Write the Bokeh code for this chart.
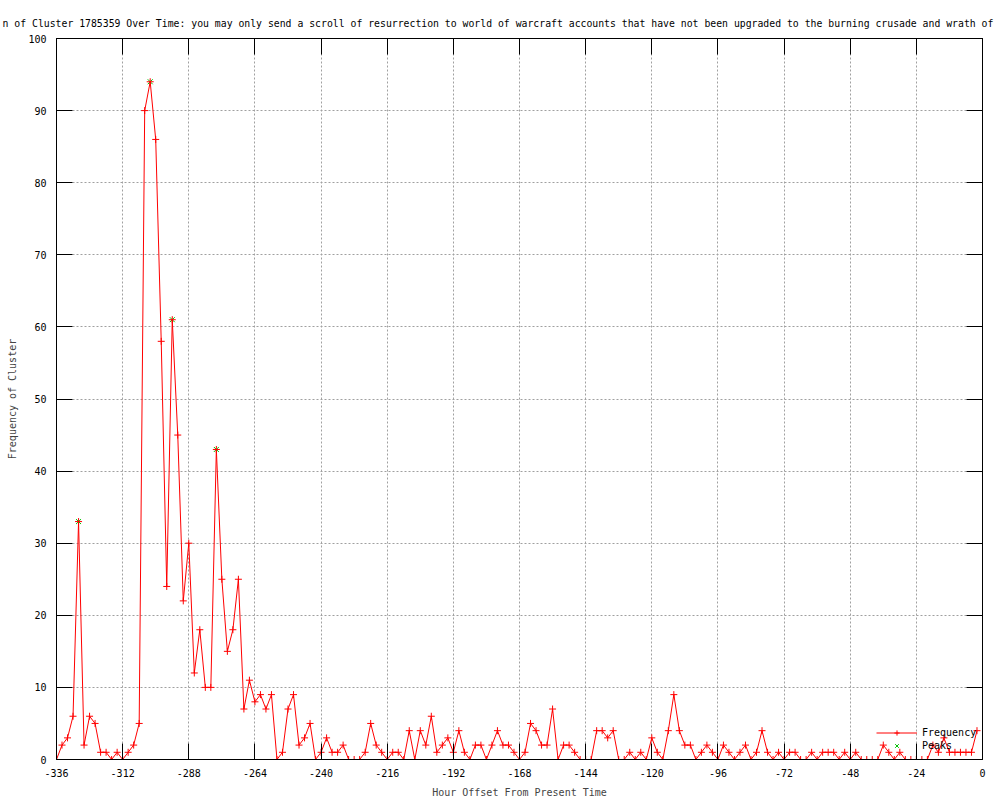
from bokeh.plotting import figure
from bokeh.models import (LinearAxis, FixedTicker, Range1d, Legend, LegendItem,
                          ColumnDataSource)
from bokeh.embed import file_html
from bokeh.resources import INLINE

# ---------------- data ----------------
title_text = ("n of Cluster 1785359 Over Time: you may only send a scroll of resurrection "
              "to world of warcraft accounts that have not been upgraded to the burning "
              "crusade and wrath of")
x_label = "Hour Offset From Present Time"
y_label = "Frequency of Cluster"

# hourly offsets, one sample every 2 hours from -336 to -2
hours = list(range(-336, 0, 2))
frequency = [
    0, 2, 3, 6, 33, 2, 6, 5, 1, 1, 0, 1, 0, 1, 2, 5,
    90, 94, 86, 58, 24, 61, 45, 22, 30, 12, 18, 10, 10, 43, 25, 15,
    18, 25, 7, 11, 8, 9, 7, 9, 0, 1, 7, 9, 2, 3, 5, 0,
    1, 3, 1, 1, 2, 0, 0, 0, 1, 5, 2, 1, 0, 1, 1, 0,
    4, 0, 4, 2, 6, 1, 2, 3, 1, 4, 1, 0, 2, 2, 0, 2,
    4, 2, 2, 1, 0, 1, 5, 4, 2, 2, 7, 0, 2, 2, 1, 0,
    0, 0, 4, 4, 3, 4, 0, 0, 1, 0, 1, 0, 3, 1, 0, 4,
    9, 4, 2, 2, 0, 1, 2, 1, 0, 2, 1, 0, 1, 2, 0, 1,
    4, 1, 0, 1, 0, 1, 1, 0, 0, 1, 0, 1, 1, 1, 0, 1,
    0, 1, 0, 0, 0, 0, 2, 1, 0, 1, 0, 0, 0, 0, 0, 2,
    1, 3, 1, 1, 1, 1, 1, 4,
]
peak_hours = [-328, -302, -294, -278]
peak_values = [33, 94, 61, 43]

x_ticks = [-336, -312, -288, -264, -240, -216, -192, -168, -144, -120, -96, -72, -48, -24, 0]
x_tick_labels = ["-336", "-312", "-288", "-264", "-240", "-216", "-192", "-168",
                 "-144", "-120", "-96", "-72", "-48", "-24", "0"]
y_ticks = [0, 10, 20, 30, 40, 50, 60, 70, 80, 90, 100]
y_tick_labels = ["0", "10", "20", "30", "40", "50", "60", "70", "80", "90", "100"]

# ---------------- styling ----------------
FONT = "DejaVu Sans Mono"
RED = "#ff0000"
GREEN = "#00c000"
GRID = "#a0a0a0"

p = figure(width=1000, height=800,
           x_range=Range1d(-336, 0), y_range=Range1d(0, 100),
           output_backend="svg", toolbar_location=None,
           min_border_left=56, min_border_right=18,
           min_border_top=38, min_border_bottom=40)

p.background_fill_color = "white"
p.border_fill_color = "white"
p.outline_line_color = "black"
p.outline_line_width = 1

p.title.text = title_text
p.title.text_font = FONT
p.title.text_font_size = "9.8px"
p.title.text_font_style = "normal"
p.title.text_color = "black"
p.title.align = "left"
p.title.offset = -54
p.title.standoff = 19

def style_axis(ax, ticks, labels, show_labels=True):
    ax.ticker = FixedTicker(ticks=ticks)
    ax.major_tick_in = 16
    ax.major_tick_out = 0
    ax.minor_tick_in = 0
    ax.minor_tick_out = 0
    ax.axis_line_color = "black"
    ax.major_tick_line_color = "black"
    ax.major_tick_line_width = 1
    if show_labels:
        ax.major_label_overrides = dict(zip(ticks, labels))
        ax.major_label_text_font = FONT
        ax.major_label_text_font_size = "10px"
        ax.major_label_text_color = "black"
    else:
        # mirror axis: ticks only, labels not drawn at all
        ax.major_label_text_font_size = "0px"
        ax.major_label_text_color = None
        ax.major_label_text_alpha = 0
        ax.major_label_standoff = 0

xa = p.xaxis[0]
ya = p.yaxis[0]
style_axis(xa, x_ticks, x_tick_labels)
style_axis(ya, y_ticks, y_tick_labels)
xa.major_label_standoff = 9
ya.major_label_standoff = 10

xa.axis_label = x_label
xa.axis_label_text_font = FONT
xa.axis_label_text_font_size = "10px"
xa.axis_label_text_font_style = "normal"
xa.axis_label_standoff = 7
ya.axis_label = y_label
ya.axis_label_text_font = FONT
ya.axis_label_text_font_size = "10px"
ya.axis_label_text_font_style = "normal"
ya.axis_label_standoff = 7

top_ax = LinearAxis()
right_ax = LinearAxis()
style_axis(top_ax, x_ticks, x_tick_labels, show_labels=False)
style_axis(right_ax, y_ticks, y_tick_labels, show_labels=False)
p.add_layout(top_ax, "above")
p.add_layout(right_ax, "right")

for g in (p.xgrid[0], p.ygrid[0]):
    g.grid_line_color = GRID
    g.grid_line_dash = "2 2"
    g.grid_line_width = 1
p.xgrid[0].ticker = FixedTicker(ticks=x_ticks)
p.ygrid[0].ticker = FixedTicker(ticks=y_ticks)

src = ColumnDataSource(dict(hour=hours, freq=frequency))
psrc = ColumnDataSource(dict(hour=peak_hours, val=peak_values))

peaks_r = p.scatter("hour", "val", source=psrc, marker="x", size=7,
                    line_color=GREEN, line_width=1)
line_r = p.line("hour", "freq", source=src, line_color=RED, line_width=1)
pts_r = p.scatter("hour", "freq", source=src, marker="cross", size=7,
                  line_color=RED, line_width=1)

legend = Legend(items=[LegendItem(label="Frequency", renderers=[line_r, pts_r]),
                       LegendItem(label="Peaks", renderers=[peaks_r])],
                location=(820, 7))
legend.background_fill_alpha = 0
legend.border_line_alpha = 0
legend.padding = 0
legend.spacing = 0
legend.margin = 0
legend.glyph_width = 41
legend.glyph_height = 13
legend.label_height = 13
legend.label_standoff = 5
legend.label_text_font = FONT
legend.label_text_font_size = "10px"
legend.label_text_color = "black"
p.add_layout(legend, "center")

open("out.html", "w").write(file_html(p, INLINE))
